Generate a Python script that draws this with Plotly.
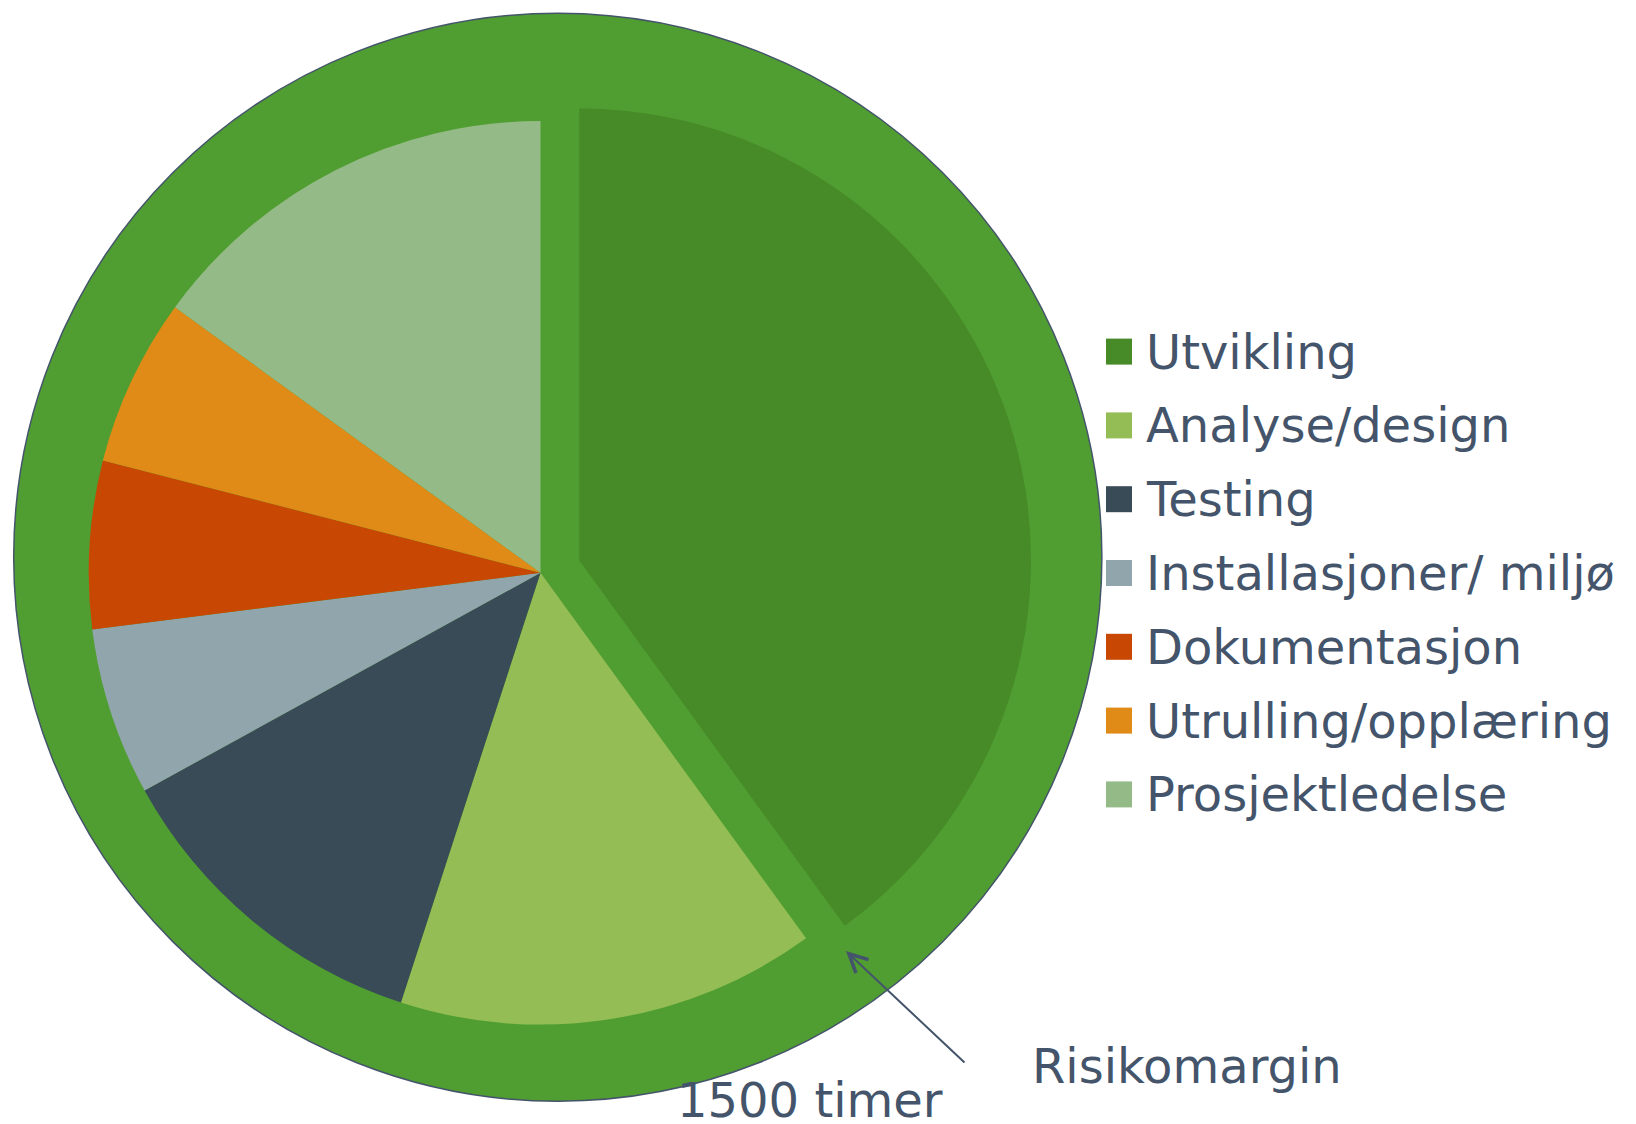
import plotly.graph_objects as go

# ---- data ----
labels = ["Utvikling", "Analyse/design", "Testing", "Installasjoner/ miljø",
          "Dokumentasjon", "Utrulling/opplæring", "Prosjektledelse"]
values = [40, 15, 12, 6, 6, 6, 15]
colors = ["#478A28", "#94BE55", "#384B57", "#91A5AC", "#C84803", "#E08B17", "#94BB87"]
pulls = [0.09, 0, 0, 0, 0, 0, 0]
ring_labels = ["Risikomargin"]
ring_values = [1]
ring_colors = ["#509E31"]
margin_text = "Risikomargin"
total_text = "1500 timer"

W, H = 1636, 1124
OFF = 8  # page body margin
TXT = "#44546A"
FONT = "DejaVu Sans"
FS = 48


def px(x):
    return (x - OFF) / W


def py(y):
    return 1 - (y - OFF) / H


def box(cx, cy, r):
    return dict(x=[px(cx - r), px(cx + r)], y=[py(cy + r), py(cy - r)])


fig = go.Figure()

# outer ring (risk margin)
fig.add_trace(go.Pie(
    labels=ring_labels, values=ring_values, sort=False,
    marker=dict(colors=ring_colors, line=dict(color=TXT, width=1.5)),
    textinfo="none", showlegend=False, hoverinfo="label",
    domain=box(557.7, 557.2, 544),
))

# main pie
pie_r = 451.8
fig.add_trace(go.Pie(
    labels=labels, values=values, sort=False, direction="clockwise", rotation=0,
    pull=pulls,
    marker=dict(colors=colors, line=dict(width=0)),
    textinfo="none", showlegend=False, hoverinfo="label+percent",
    domain=box(540.5, 572.8, pie_r * (1 + max(pulls))),
))

shapes = []
annotations = []

# legend
for i, (lab, col) in enumerate(zip(labels, colors)):
    yc = 351.6 + 73.8 * i
    shapes.append(dict(type="rect", xref="paper", yref="paper",
                       x0=px(1106), x1=px(1132), y0=py(yc + 13), y1=py(yc - 13),
                       fillcolor=col, line=dict(width=0)))
    annotations.append(dict(x=px(1145), y=py(yc), xref="paper", yref="paper",
                            text=lab, showarrow=False, xanchor="left", yanchor="middle",
                            borderpad=0, font=dict(family=FONT, size=FS, color=TXT)))

# arrow to the risk margin ring
head = (846, 951)
tail = (966, 1064)
annotations.append(dict(x=px(head[0]), y=py(head[1]), xref="paper", yref="paper",
                        ax=tail[0] - head[0], ay=tail[1] - head[1],
                        axref="pixel", ayref="pixel",
                        text="", showarrow=True, arrowhead=5, arrowsize=1.8,
                        arrowwidth=2, arrowcolor=TXT))
annotations.append(dict(x=px(1031), y=py(1066), xref="paper", yref="paper",
                        text=margin_text, showarrow=False, xanchor="left", yanchor="middle",
                        borderpad=0, font=dict(family=FONT, size=FS, color=TXT)))
annotations.append(dict(x=px(810), y=py(1100), xref="paper", yref="paper",
                        text=total_text, showarrow=False, xanchor="center", yanchor="middle",
                        borderpad=0, font=dict(family=FONT, size=FS, color=TXT)))

fig.update_layout(
    width=W, height=H, margin=dict(l=0, r=0, t=0, b=0),
    paper_bgcolor="white", plot_bgcolor="white",
    showlegend=False, shapes=shapes, annotations=annotations,
)

fig.write_html("out.html")
